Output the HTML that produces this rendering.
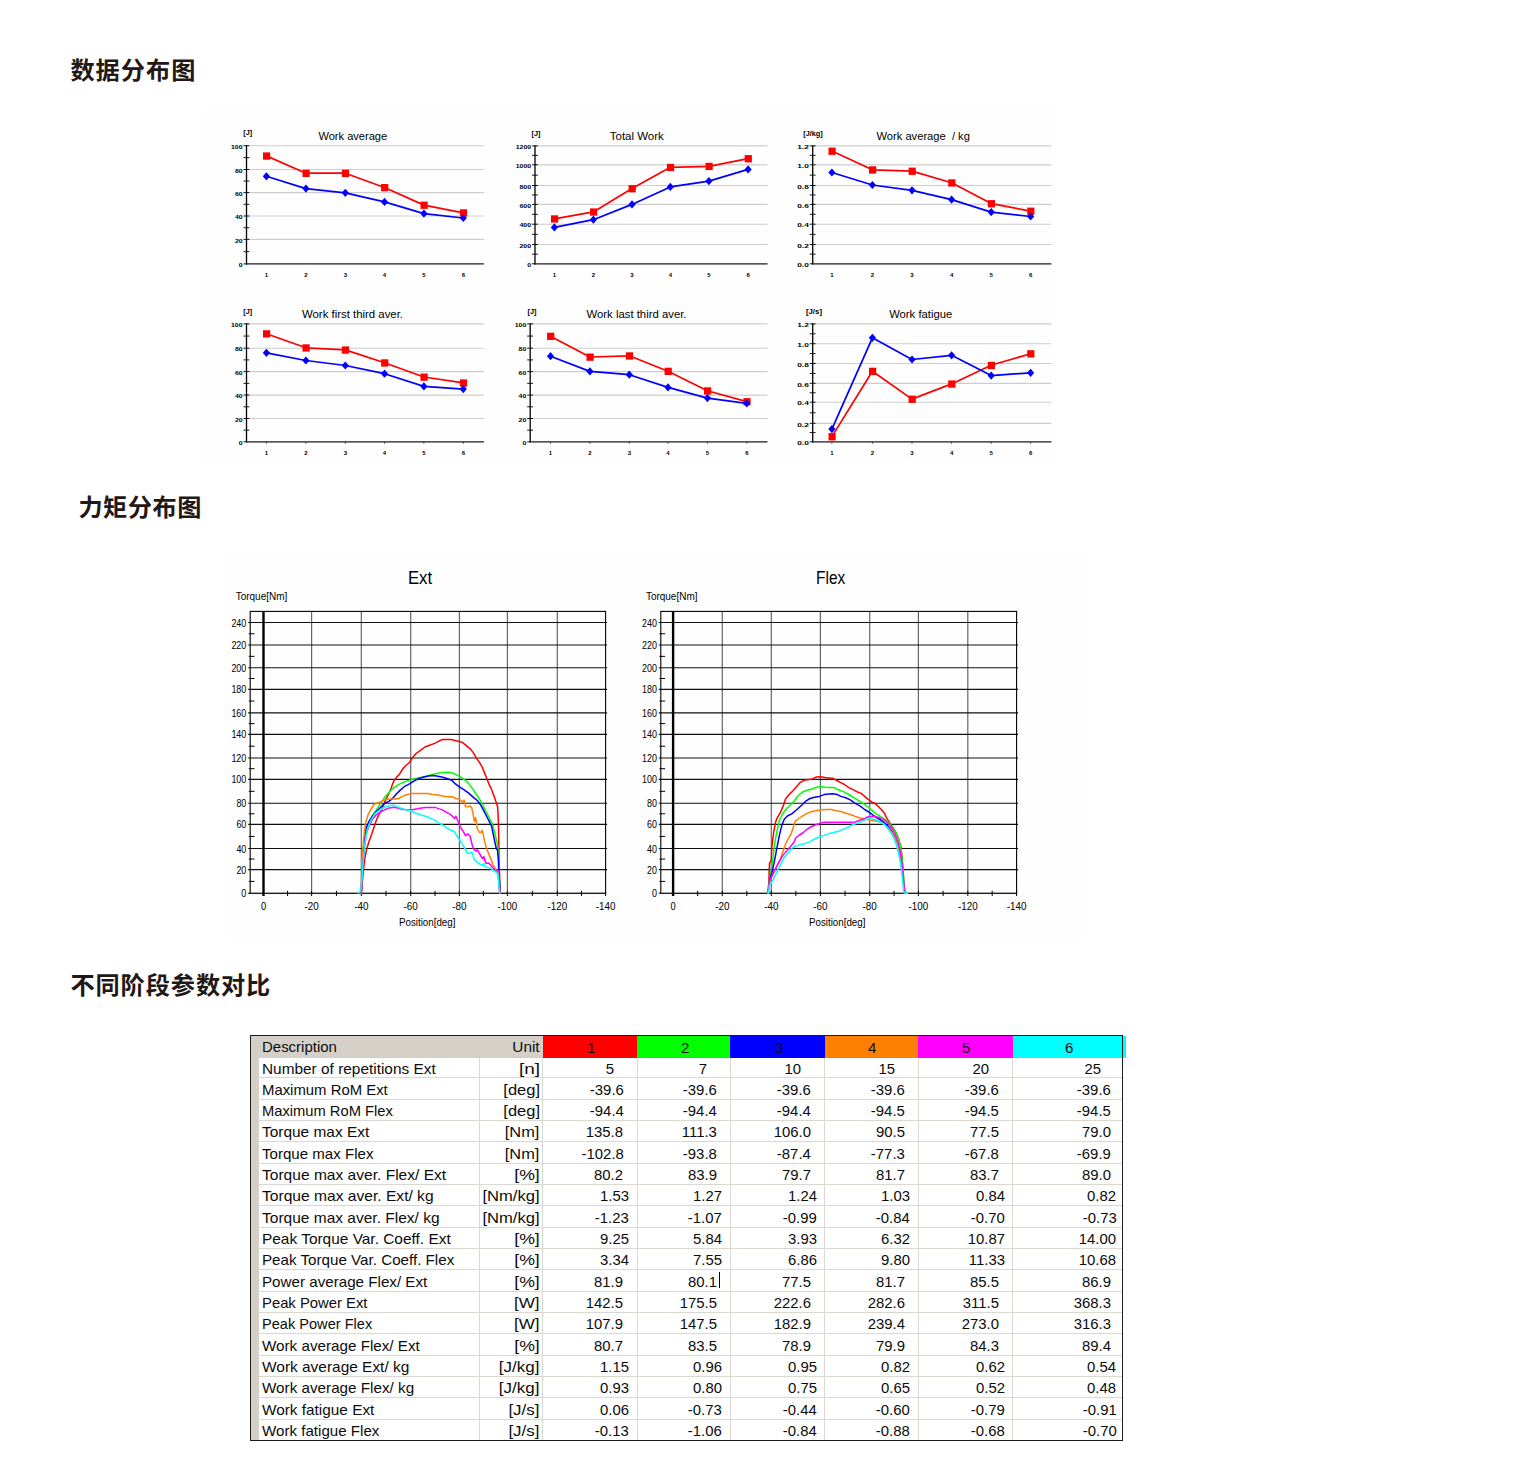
<!DOCTYPE html>
<html><head><meta charset="utf-8"><title>Report</title><style>
html,body{margin:0;padding:0;background:#fff}
body{width:1535px;height:1471px;position:relative;overflow:hidden;font-family:"Liberation Sans",sans-serif}
svg{position:absolute;left:0;top:0}
svg text{font-family:"Liberation Sans",sans-serif;fill:#000}
.bgimg{position:absolute;left:204px;top:108px;width:851px;height:357px;background:#fefefe}
.bgimg2{position:absolute;left:225px;top:552px;width:858px;height:386px;background:#fefefe}
.tbl{position:absolute;background:#d4d0c8;font-size:14.4px;color:#0c0c0c;overflow:visible}
.tbl div,.tbl span{position:absolute}
.tbl .body{background:#fff}
.tbl .hl{height:1px;background:#dbd8d1}
.tbl .vl{width:1px;background:#dbd8d1}
.tbl .t{white-space:nowrap;line-height:18px;height:18px;display:block}
.tbl .clip{overflow:hidden}
.tbl .cur{width:1px;height:16px;background:#000}
.tbl .bd{left:0;top:0;right:0;bottom:0;border:1px solid #1c1c1c;box-sizing:border-box}
</style></head><body>
<div class="bgimg"></div><div class="bgimg2"></div>
<svg width="1535" height="1471" viewBox="0 0 1535 1471">
<line x1="246.5" y1="145.70" x2="483.9" y2="145.70" stroke="#cdcdcd" stroke-width="1.15"/>
<line x1="246.5" y1="169.50" x2="483.9" y2="169.50" stroke="#cdcdcd" stroke-width="1.15"/>
<line x1="246.5" y1="192.60" x2="483.9" y2="192.60" stroke="#cdcdcd" stroke-width="1.15"/>
<line x1="246.5" y1="216.00" x2="483.9" y2="216.00" stroke="#cdcdcd" stroke-width="1.15"/>
<line x1="246.5" y1="239.40" x2="483.9" y2="239.40" stroke="#cdcdcd" stroke-width="1.15"/>
<line x1="246.5" y1="145.10" x2="246.5" y2="264.50" stroke="#000" stroke-width="1.3"/>
<line x1="245.9" y1="263.90" x2="483.9" y2="263.90" stroke="#1a1a1a" stroke-width="1.3"/>
<line x1="243.5" y1="145.70" x2="249.4" y2="145.70" stroke="#000" stroke-width="0.9"/>
<line x1="243.5" y1="157.60" x2="249.4" y2="157.60" stroke="#000" stroke-width="0.9"/>
<line x1="243.5" y1="169.50" x2="249.4" y2="169.50" stroke="#000" stroke-width="0.9"/>
<line x1="243.5" y1="181.05" x2="249.4" y2="181.05" stroke="#000" stroke-width="0.9"/>
<line x1="243.5" y1="192.60" x2="249.4" y2="192.60" stroke="#000" stroke-width="0.9"/>
<line x1="243.5" y1="204.30" x2="249.4" y2="204.30" stroke="#000" stroke-width="0.9"/>
<line x1="243.5" y1="216.00" x2="249.4" y2="216.00" stroke="#000" stroke-width="0.9"/>
<line x1="243.5" y1="227.70" x2="249.4" y2="227.70" stroke="#000" stroke-width="0.9"/>
<line x1="243.5" y1="239.40" x2="249.4" y2="239.40" stroke="#000" stroke-width="0.9"/>
<line x1="243.5" y1="251.65" x2="249.4" y2="251.65" stroke="#000" stroke-width="0.9"/>
<line x1="243.5" y1="263.90" x2="246.5" y2="263.90" stroke="#000" stroke-width="0.9"/>
<text x="242.60" y="267.10" text-anchor="end" font-size="6.2" font-weight="bold" textLength="3.9" lengthAdjust="spacingAndGlyphs">0</text>
<text x="242.60" y="242.60" text-anchor="end" font-size="6.2" font-weight="bold" textLength="7.7" lengthAdjust="spacingAndGlyphs">20</text>
<text x="242.60" y="219.20" text-anchor="end" font-size="6.2" font-weight="bold" textLength="7.7" lengthAdjust="spacingAndGlyphs">40</text>
<text x="242.60" y="195.80" text-anchor="end" font-size="6.2" font-weight="bold" textLength="7.7" lengthAdjust="spacingAndGlyphs">60</text>
<text x="242.60" y="172.70" text-anchor="end" font-size="6.2" font-weight="bold" textLength="7.7" lengthAdjust="spacingAndGlyphs">80</text>
<text x="242.60" y="148.90" text-anchor="end" font-size="6.2" font-weight="bold" textLength="11.6" lengthAdjust="spacingAndGlyphs">100</text>
<text x="266.4" y="277.00" text-anchor="middle" font-size="6" font-weight="bold">1</text>
<text x="305.9" y="277.00" text-anchor="middle" font-size="6" font-weight="bold">2</text>
<text x="345.3" y="277.00" text-anchor="middle" font-size="6" font-weight="bold">3</text>
<text x="384.5" y="277.00" text-anchor="middle" font-size="6" font-weight="bold">4</text>
<text x="423.9" y="277.00" text-anchor="middle" font-size="6" font-weight="bold">5</text>
<text x="463.3" y="277.00" text-anchor="middle" font-size="6" font-weight="bold">6</text>
<text x="243.30" y="135.40" font-size="6.6" font-weight="bold" fill="#111" textLength="8.9" lengthAdjust="spacingAndGlyphs">[J]</text>
<text xml:space="preserve" x="352.80" y="139.50" text-anchor="middle" font-size="11.3" fill="#222" textLength="68.8" lengthAdjust="spacingAndGlyphs">Work average</text>
<polyline points="266.4,155.9 305.9,173.2 345.3,173.2 384.5,187.5 423.9,205.1 463.3,212.8" fill="none" stroke="#ff0000" stroke-width="1.7" stroke-linejoin="round"/>
<rect x="263.0" y="152.4" width="7.2" height="7.3" fill="#ff0000"/>
<rect x="302.5" y="169.7" width="7.2" height="7.3" fill="#ff0000"/>
<rect x="341.9" y="169.7" width="7.2" height="7.3" fill="#ff0000"/>
<rect x="381.1" y="184.0" width="7.2" height="7.3" fill="#ff0000"/>
<rect x="420.5" y="201.6" width="7.2" height="7.3" fill="#ff0000"/>
<rect x="459.9" y="209.3" width="7.2" height="7.3" fill="#ff0000"/>
<polyline points="266.4,176.3 305.9,188.6 345.3,192.8 384.5,201.9 423.9,213.6 463.3,218.0" fill="none" stroke="#0000ff" stroke-width="1.7" stroke-linejoin="round"/>
<path d="M266.4 172.2L270.0 176.3L266.4 180.4L262.8 176.3Z" fill="#0000ff"/>
<path d="M305.9 184.5L309.5 188.6L305.9 192.7L302.3 188.6Z" fill="#0000ff"/>
<path d="M345.3 188.7L348.9 192.8L345.3 196.9L341.7 192.8Z" fill="#0000ff"/>
<path d="M384.5 197.8L388.1 201.9L384.5 206.0L380.9 201.9Z" fill="#0000ff"/>
<path d="M423.9 209.5L427.5 213.6L423.9 217.7L420.3 213.6Z" fill="#0000ff"/>
<path d="M463.3 213.9L466.9 218.0L463.3 222.1L459.7 218.0Z" fill="#0000ff"/>
<line x1="535.0" y1="145.90" x2="767.5" y2="145.90" stroke="#cdcdcd" stroke-width="1.15"/>
<line x1="535.0" y1="164.80" x2="767.5" y2="164.80" stroke="#cdcdcd" stroke-width="1.15"/>
<line x1="535.0" y1="185.50" x2="767.5" y2="185.50" stroke="#cdcdcd" stroke-width="1.15"/>
<line x1="535.0" y1="204.40" x2="767.5" y2="204.40" stroke="#cdcdcd" stroke-width="1.15"/>
<line x1="535.0" y1="224.20" x2="767.5" y2="224.20" stroke="#cdcdcd" stroke-width="1.15"/>
<line x1="535.0" y1="244.50" x2="767.5" y2="244.50" stroke="#cdcdcd" stroke-width="1.15"/>
<line x1="535.0" y1="145.30" x2="535.0" y2="264.40" stroke="#000" stroke-width="1.3"/>
<line x1="534.4" y1="263.80" x2="767.5" y2="263.80" stroke="#1a1a1a" stroke-width="1.3"/>
<line x1="532.0" y1="145.90" x2="537.9" y2="145.90" stroke="#000" stroke-width="0.9"/>
<line x1="532.0" y1="155.35" x2="537.9" y2="155.35" stroke="#000" stroke-width="0.9"/>
<line x1="532.0" y1="164.80" x2="537.9" y2="164.80" stroke="#000" stroke-width="0.9"/>
<line x1="532.0" y1="175.15" x2="537.9" y2="175.15" stroke="#000" stroke-width="0.9"/>
<line x1="532.0" y1="185.50" x2="537.9" y2="185.50" stroke="#000" stroke-width="0.9"/>
<line x1="532.0" y1="194.95" x2="537.9" y2="194.95" stroke="#000" stroke-width="0.9"/>
<line x1="532.0" y1="204.40" x2="537.9" y2="204.40" stroke="#000" stroke-width="0.9"/>
<line x1="532.0" y1="214.30" x2="537.9" y2="214.30" stroke="#000" stroke-width="0.9"/>
<line x1="532.0" y1="224.20" x2="537.9" y2="224.20" stroke="#000" stroke-width="0.9"/>
<line x1="532.0" y1="234.35" x2="537.9" y2="234.35" stroke="#000" stroke-width="0.9"/>
<line x1="532.0" y1="244.50" x2="537.9" y2="244.50" stroke="#000" stroke-width="0.9"/>
<line x1="532.0" y1="254.15" x2="537.9" y2="254.15" stroke="#000" stroke-width="0.9"/>
<line x1="532.0" y1="263.80" x2="535.0" y2="263.80" stroke="#000" stroke-width="0.9"/>
<text x="531.10" y="267.00" text-anchor="end" font-size="6.2" font-weight="bold" textLength="3.9" lengthAdjust="spacingAndGlyphs">0</text>
<text x="531.10" y="247.70" text-anchor="end" font-size="6.2" font-weight="bold" textLength="11.6" lengthAdjust="spacingAndGlyphs">200</text>
<text x="531.10" y="227.40" text-anchor="end" font-size="6.2" font-weight="bold" textLength="11.6" lengthAdjust="spacingAndGlyphs">400</text>
<text x="531.10" y="207.60" text-anchor="end" font-size="6.2" font-weight="bold" textLength="11.6" lengthAdjust="spacingAndGlyphs">600</text>
<text x="531.10" y="188.70" text-anchor="end" font-size="6.2" font-weight="bold" textLength="11.6" lengthAdjust="spacingAndGlyphs">800</text>
<text x="531.10" y="168.00" text-anchor="end" font-size="6.2" font-weight="bold" textLength="15.4" lengthAdjust="spacingAndGlyphs">1000</text>
<text x="531.10" y="149.10" text-anchor="end" font-size="6.2" font-weight="bold" textLength="15.4" lengthAdjust="spacingAndGlyphs">1200</text>
<text x="554.4" y="276.90" text-anchor="middle" font-size="6" font-weight="bold">1</text>
<text x="593.4" y="276.90" text-anchor="middle" font-size="6" font-weight="bold">2</text>
<text x="632.0" y="276.90" text-anchor="middle" font-size="6" font-weight="bold">3</text>
<text x="670.3" y="276.90" text-anchor="middle" font-size="6" font-weight="bold">4</text>
<text x="708.9" y="276.90" text-anchor="middle" font-size="6" font-weight="bold">5</text>
<text x="748.1" y="276.90" text-anchor="middle" font-size="6" font-weight="bold">6</text>
<text x="531.50" y="135.60" font-size="6.6" font-weight="bold" fill="#111" textLength="9.0" lengthAdjust="spacingAndGlyphs">[J]</text>
<text xml:space="preserve" x="636.80" y="139.70" text-anchor="middle" font-size="11.3" fill="#222" textLength="54.0" lengthAdjust="spacingAndGlyphs">Total Work</text>
<polyline points="554.4,218.8 593.4,211.9 632.0,188.6 670.3,167.3 708.9,166.3 748.1,158.6" fill="none" stroke="#ff0000" stroke-width="1.7" stroke-linejoin="round"/>
<rect x="551.0" y="215.3" width="7.2" height="7.3" fill="#ff0000"/>
<rect x="590.0" y="208.4" width="7.2" height="7.3" fill="#ff0000"/>
<rect x="628.6" y="185.1" width="7.2" height="7.3" fill="#ff0000"/>
<rect x="666.9" y="163.8" width="7.2" height="7.3" fill="#ff0000"/>
<rect x="705.5" y="162.8" width="7.2" height="7.3" fill="#ff0000"/>
<rect x="744.7" y="155.1" width="7.2" height="7.3" fill="#ff0000"/>
<polyline points="554.4,227.4 593.4,219.7 632.0,204.4 670.3,186.9 708.9,181.1 748.1,169.4" fill="none" stroke="#0000ff" stroke-width="1.7" stroke-linejoin="round"/>
<path d="M554.4 223.3L558.0 227.4L554.4 231.5L550.8 227.4Z" fill="#0000ff"/>
<path d="M593.4 215.6L597.0 219.7L593.4 223.8L589.8 219.7Z" fill="#0000ff"/>
<path d="M632.0 200.3L635.6 204.4L632.0 208.5L628.4 204.4Z" fill="#0000ff"/>
<path d="M670.3 182.8L673.9 186.9L670.3 191.0L666.7 186.9Z" fill="#0000ff"/>
<path d="M708.9 177.0L712.5 181.1L708.9 185.2L705.3 181.1Z" fill="#0000ff"/>
<path d="M748.1 165.3L751.7 169.4L748.1 173.5L744.5 169.4Z" fill="#0000ff"/>
<line x1="812.7" y1="145.90" x2="1051.4" y2="145.90" stroke="#cdcdcd" stroke-width="1.15"/>
<line x1="812.7" y1="164.80" x2="1051.4" y2="164.80" stroke="#cdcdcd" stroke-width="1.15"/>
<line x1="812.7" y1="185.50" x2="1051.4" y2="185.50" stroke="#cdcdcd" stroke-width="1.15"/>
<line x1="812.7" y1="204.40" x2="1051.4" y2="204.40" stroke="#cdcdcd" stroke-width="1.15"/>
<line x1="812.7" y1="224.20" x2="1051.4" y2="224.20" stroke="#cdcdcd" stroke-width="1.15"/>
<line x1="812.7" y1="244.50" x2="1051.4" y2="244.50" stroke="#cdcdcd" stroke-width="1.15"/>
<line x1="812.7" y1="145.30" x2="812.7" y2="264.40" stroke="#000" stroke-width="1.3"/>
<line x1="812.1" y1="263.80" x2="1051.4" y2="263.80" stroke="#1a1a1a" stroke-width="1.3"/>
<line x1="809.7" y1="145.90" x2="815.6" y2="145.90" stroke="#000" stroke-width="0.9"/>
<line x1="809.7" y1="155.35" x2="815.6" y2="155.35" stroke="#000" stroke-width="0.9"/>
<line x1="809.7" y1="164.80" x2="815.6" y2="164.80" stroke="#000" stroke-width="0.9"/>
<line x1="809.7" y1="175.15" x2="815.6" y2="175.15" stroke="#000" stroke-width="0.9"/>
<line x1="809.7" y1="185.50" x2="815.6" y2="185.50" stroke="#000" stroke-width="0.9"/>
<line x1="809.7" y1="194.95" x2="815.6" y2="194.95" stroke="#000" stroke-width="0.9"/>
<line x1="809.7" y1="204.40" x2="815.6" y2="204.40" stroke="#000" stroke-width="0.9"/>
<line x1="809.7" y1="214.30" x2="815.6" y2="214.30" stroke="#000" stroke-width="0.9"/>
<line x1="809.7" y1="224.20" x2="815.6" y2="224.20" stroke="#000" stroke-width="0.9"/>
<line x1="809.7" y1="234.35" x2="815.6" y2="234.35" stroke="#000" stroke-width="0.9"/>
<line x1="809.7" y1="244.50" x2="815.6" y2="244.50" stroke="#000" stroke-width="0.9"/>
<line x1="809.7" y1="254.15" x2="815.6" y2="254.15" stroke="#000" stroke-width="0.9"/>
<line x1="809.7" y1="263.80" x2="812.7" y2="263.80" stroke="#000" stroke-width="0.9"/>
<text x="808.80" y="267.00" text-anchor="end" font-size="6.2" font-weight="bold" textLength="11.6" lengthAdjust="spacingAndGlyphs">0.0</text>
<text x="808.80" y="247.70" text-anchor="end" font-size="6.2" font-weight="bold" textLength="11.6" lengthAdjust="spacingAndGlyphs">0.2</text>
<text x="808.80" y="227.40" text-anchor="end" font-size="6.2" font-weight="bold" textLength="11.6" lengthAdjust="spacingAndGlyphs">0.4</text>
<text x="808.80" y="207.60" text-anchor="end" font-size="6.2" font-weight="bold" textLength="11.6" lengthAdjust="spacingAndGlyphs">0.6</text>
<text x="808.80" y="188.70" text-anchor="end" font-size="6.2" font-weight="bold" textLength="11.6" lengthAdjust="spacingAndGlyphs">0.8</text>
<text x="808.80" y="168.00" text-anchor="end" font-size="6.2" font-weight="bold" textLength="11.6" lengthAdjust="spacingAndGlyphs">1.0</text>
<text x="808.80" y="149.10" text-anchor="end" font-size="6.2" font-weight="bold" textLength="11.6" lengthAdjust="spacingAndGlyphs">1.2</text>
<text x="831.9" y="276.90" text-anchor="middle" font-size="6" font-weight="bold">1</text>
<text x="872.4" y="276.90" text-anchor="middle" font-size="6" font-weight="bold">2</text>
<text x="912.0" y="276.90" text-anchor="middle" font-size="6" font-weight="bold">3</text>
<text x="951.6" y="276.90" text-anchor="middle" font-size="6" font-weight="bold">4</text>
<text x="991.2" y="276.90" text-anchor="middle" font-size="6" font-weight="bold">5</text>
<text x="1030.6" y="276.90" text-anchor="middle" font-size="6" font-weight="bold">6</text>
<text x="803.20" y="135.60" font-size="6.6" font-weight="bold" fill="#111" textLength="19.6" lengthAdjust="spacingAndGlyphs">[J/kg]</text>
<text xml:space="preserve" x="923.20" y="139.70" text-anchor="middle" font-size="11.3" fill="#222" textLength="93.4" lengthAdjust="spacingAndGlyphs">Work average  / kg</text>
<polyline points="831.9,151.1 872.4,169.8 912.0,171.1 951.6,182.8 991.2,203.6 1030.6,211.1" fill="none" stroke="#ff0000" stroke-width="1.7" stroke-linejoin="round"/>
<rect x="828.5" y="147.6" width="7.2" height="7.3" fill="#ff0000"/>
<rect x="869.0" y="166.3" width="7.2" height="7.3" fill="#ff0000"/>
<rect x="908.6" y="167.6" width="7.2" height="7.3" fill="#ff0000"/>
<rect x="948.2" y="179.3" width="7.2" height="7.3" fill="#ff0000"/>
<rect x="987.8" y="200.1" width="7.2" height="7.3" fill="#ff0000"/>
<rect x="1027.2" y="207.6" width="7.2" height="7.3" fill="#ff0000"/>
<polyline points="831.9,172.5 872.4,185.0 912.0,190.3 951.6,199.6 991.2,212.1 1030.6,216.5" fill="none" stroke="#0000ff" stroke-width="1.7" stroke-linejoin="round"/>
<path d="M831.9 168.4L835.5 172.5L831.9 176.6L828.3 172.5Z" fill="#0000ff"/>
<path d="M872.4 180.9L876.0 185.0L872.4 189.1L868.8 185.0Z" fill="#0000ff"/>
<path d="M912.0 186.2L915.6 190.3L912.0 194.4L908.4 190.3Z" fill="#0000ff"/>
<path d="M951.6 195.5L955.2 199.6L951.6 203.7L948.0 199.6Z" fill="#0000ff"/>
<path d="M991.2 208.0L994.8 212.1L991.2 216.2L987.6 212.1Z" fill="#0000ff"/>
<path d="M1030.6 212.4L1034.2 216.5L1030.6 220.6L1027.0 216.5Z" fill="#0000ff"/>
<line x1="246.5" y1="323.90" x2="483.9" y2="323.90" stroke="#cdcdcd" stroke-width="1.15"/>
<line x1="246.5" y1="348.20" x2="483.9" y2="348.20" stroke="#cdcdcd" stroke-width="1.15"/>
<line x1="246.5" y1="371.60" x2="483.9" y2="371.60" stroke="#cdcdcd" stroke-width="1.15"/>
<line x1="246.5" y1="395.10" x2="483.9" y2="395.10" stroke="#cdcdcd" stroke-width="1.15"/>
<line x1="246.5" y1="418.50" x2="483.9" y2="418.50" stroke="#cdcdcd" stroke-width="1.15"/>
<line x1="246.5" y1="323.30" x2="246.5" y2="442.40" stroke="#000" stroke-width="1.3"/>
<line x1="245.9" y1="441.80" x2="483.9" y2="441.80" stroke="#1a1a1a" stroke-width="1.3"/>
<line x1="243.5" y1="323.90" x2="249.4" y2="323.90" stroke="#000" stroke-width="0.9"/>
<line x1="243.5" y1="336.05" x2="249.4" y2="336.05" stroke="#000" stroke-width="0.9"/>
<line x1="243.5" y1="348.20" x2="249.4" y2="348.20" stroke="#000" stroke-width="0.9"/>
<line x1="243.5" y1="359.90" x2="249.4" y2="359.90" stroke="#000" stroke-width="0.9"/>
<line x1="243.5" y1="371.60" x2="249.4" y2="371.60" stroke="#000" stroke-width="0.9"/>
<line x1="243.5" y1="383.35" x2="249.4" y2="383.35" stroke="#000" stroke-width="0.9"/>
<line x1="243.5" y1="395.10" x2="249.4" y2="395.10" stroke="#000" stroke-width="0.9"/>
<line x1="243.5" y1="406.80" x2="249.4" y2="406.80" stroke="#000" stroke-width="0.9"/>
<line x1="243.5" y1="418.50" x2="249.4" y2="418.50" stroke="#000" stroke-width="0.9"/>
<line x1="243.5" y1="430.15" x2="249.4" y2="430.15" stroke="#000" stroke-width="0.9"/>
<line x1="243.5" y1="441.80" x2="246.5" y2="441.80" stroke="#000" stroke-width="0.9"/>
<line x1="266.4" y1="441.80" x2="266.4" y2="443.70" stroke="#333" stroke-width="0.9"/>
<line x1="305.9" y1="441.80" x2="305.9" y2="443.70" stroke="#333" stroke-width="0.9"/>
<line x1="345.3" y1="441.80" x2="345.3" y2="443.70" stroke="#333" stroke-width="0.9"/>
<line x1="384.5" y1="441.80" x2="384.5" y2="443.70" stroke="#333" stroke-width="0.9"/>
<line x1="423.9" y1="441.80" x2="423.9" y2="443.70" stroke="#333" stroke-width="0.9"/>
<line x1="463.3" y1="441.80" x2="463.3" y2="443.70" stroke="#333" stroke-width="0.9"/>
<text x="242.60" y="445.00" text-anchor="end" font-size="6.2" font-weight="bold" textLength="3.9" lengthAdjust="spacingAndGlyphs">0</text>
<text x="242.60" y="421.70" text-anchor="end" font-size="6.2" font-weight="bold" textLength="7.7" lengthAdjust="spacingAndGlyphs">20</text>
<text x="242.60" y="398.30" text-anchor="end" font-size="6.2" font-weight="bold" textLength="7.7" lengthAdjust="spacingAndGlyphs">40</text>
<text x="242.60" y="374.80" text-anchor="end" font-size="6.2" font-weight="bold" textLength="7.7" lengthAdjust="spacingAndGlyphs">60</text>
<text x="242.60" y="351.40" text-anchor="end" font-size="6.2" font-weight="bold" textLength="7.7" lengthAdjust="spacingAndGlyphs">80</text>
<text x="242.60" y="327.10" text-anchor="end" font-size="6.2" font-weight="bold" textLength="11.6" lengthAdjust="spacingAndGlyphs">100</text>
<text x="266.4" y="454.90" text-anchor="middle" font-size="6" font-weight="bold">1</text>
<text x="305.9" y="454.90" text-anchor="middle" font-size="6" font-weight="bold">2</text>
<text x="345.3" y="454.90" text-anchor="middle" font-size="6" font-weight="bold">3</text>
<text x="384.5" y="454.90" text-anchor="middle" font-size="6" font-weight="bold">4</text>
<text x="423.9" y="454.90" text-anchor="middle" font-size="6" font-weight="bold">5</text>
<text x="463.3" y="454.90" text-anchor="middle" font-size="6" font-weight="bold">6</text>
<text x="243.30" y="313.60" font-size="6.6" font-weight="bold" fill="#111" textLength="8.9" lengthAdjust="spacingAndGlyphs">[J]</text>
<text xml:space="preserve" x="352.50" y="317.70" text-anchor="middle" font-size="11.3" fill="#222" textLength="101.0" lengthAdjust="spacingAndGlyphs">Work first third aver.</text>
<polyline points="266.4,333.7 305.9,347.8 345.3,349.9 384.5,362.8 423.9,377.0 463.3,382.9" fill="none" stroke="#ff0000" stroke-width="1.7" stroke-linejoin="round"/>
<rect x="263.0" y="330.2" width="7.2" height="7.3" fill="#ff0000"/>
<rect x="302.5" y="344.3" width="7.2" height="7.3" fill="#ff0000"/>
<rect x="341.9" y="346.4" width="7.2" height="7.3" fill="#ff0000"/>
<rect x="381.1" y="359.3" width="7.2" height="7.3" fill="#ff0000"/>
<rect x="420.5" y="373.5" width="7.2" height="7.3" fill="#ff0000"/>
<rect x="459.9" y="379.4" width="7.2" height="7.3" fill="#ff0000"/>
<polyline points="266.4,352.8 305.9,360.5 345.3,365.5 384.5,373.7 423.9,386.4 463.3,389.1" fill="none" stroke="#0000ff" stroke-width="1.7" stroke-linejoin="round"/>
<path d="M266.4 348.7L270.0 352.8L266.4 356.9L262.8 352.8Z" fill="#0000ff"/>
<path d="M305.9 356.4L309.5 360.5L305.9 364.6L302.3 360.5Z" fill="#0000ff"/>
<path d="M345.3 361.4L348.9 365.5L345.3 369.6L341.7 365.5Z" fill="#0000ff"/>
<path d="M384.5 369.6L388.1 373.7L384.5 377.8L380.9 373.7Z" fill="#0000ff"/>
<path d="M423.9 382.3L427.5 386.4L423.9 390.5L420.3 386.4Z" fill="#0000ff"/>
<path d="M463.3 385.0L466.9 389.1L463.3 393.2L459.7 389.1Z" fill="#0000ff"/>
<line x1="530.2" y1="323.90" x2="767.5" y2="323.90" stroke="#cdcdcd" stroke-width="1.15"/>
<line x1="530.2" y1="348.20" x2="767.5" y2="348.20" stroke="#cdcdcd" stroke-width="1.15"/>
<line x1="530.2" y1="371.60" x2="767.5" y2="371.60" stroke="#cdcdcd" stroke-width="1.15"/>
<line x1="530.2" y1="395.10" x2="767.5" y2="395.10" stroke="#cdcdcd" stroke-width="1.15"/>
<line x1="530.2" y1="418.50" x2="767.5" y2="418.50" stroke="#cdcdcd" stroke-width="1.15"/>
<line x1="530.2" y1="323.30" x2="530.2" y2="442.40" stroke="#000" stroke-width="1.3"/>
<line x1="529.6" y1="441.80" x2="767.5" y2="441.80" stroke="#1a1a1a" stroke-width="1.3"/>
<line x1="527.2" y1="323.90" x2="533.1" y2="323.90" stroke="#000" stroke-width="0.9"/>
<line x1="527.2" y1="336.05" x2="533.1" y2="336.05" stroke="#000" stroke-width="0.9"/>
<line x1="527.2" y1="348.20" x2="533.1" y2="348.20" stroke="#000" stroke-width="0.9"/>
<line x1="527.2" y1="359.90" x2="533.1" y2="359.90" stroke="#000" stroke-width="0.9"/>
<line x1="527.2" y1="371.60" x2="533.1" y2="371.60" stroke="#000" stroke-width="0.9"/>
<line x1="527.2" y1="383.35" x2="533.1" y2="383.35" stroke="#000" stroke-width="0.9"/>
<line x1="527.2" y1="395.10" x2="533.1" y2="395.10" stroke="#000" stroke-width="0.9"/>
<line x1="527.2" y1="406.80" x2="533.1" y2="406.80" stroke="#000" stroke-width="0.9"/>
<line x1="527.2" y1="418.50" x2="533.1" y2="418.50" stroke="#000" stroke-width="0.9"/>
<line x1="527.2" y1="430.15" x2="533.1" y2="430.15" stroke="#000" stroke-width="0.9"/>
<line x1="527.2" y1="441.80" x2="530.2" y2="441.80" stroke="#000" stroke-width="0.9"/>
<line x1="550.5" y1="441.80" x2="550.5" y2="443.70" stroke="#333" stroke-width="0.9"/>
<line x1="589.9" y1="441.80" x2="589.9" y2="443.70" stroke="#333" stroke-width="0.9"/>
<line x1="629.3" y1="441.80" x2="629.3" y2="443.70" stroke="#333" stroke-width="0.9"/>
<line x1="668.0" y1="441.80" x2="668.0" y2="443.70" stroke="#333" stroke-width="0.9"/>
<line x1="707.4" y1="441.80" x2="707.4" y2="443.70" stroke="#333" stroke-width="0.9"/>
<line x1="746.8" y1="441.80" x2="746.8" y2="443.70" stroke="#333" stroke-width="0.9"/>
<text x="526.30" y="445.00" text-anchor="end" font-size="6.2" font-weight="bold" textLength="3.9" lengthAdjust="spacingAndGlyphs">0</text>
<text x="526.30" y="421.70" text-anchor="end" font-size="6.2" font-weight="bold" textLength="7.7" lengthAdjust="spacingAndGlyphs">20</text>
<text x="526.30" y="398.30" text-anchor="end" font-size="6.2" font-weight="bold" textLength="7.7" lengthAdjust="spacingAndGlyphs">40</text>
<text x="526.30" y="374.80" text-anchor="end" font-size="6.2" font-weight="bold" textLength="7.7" lengthAdjust="spacingAndGlyphs">60</text>
<text x="526.30" y="351.40" text-anchor="end" font-size="6.2" font-weight="bold" textLength="7.7" lengthAdjust="spacingAndGlyphs">80</text>
<text x="526.30" y="327.10" text-anchor="end" font-size="6.2" font-weight="bold" textLength="11.6" lengthAdjust="spacingAndGlyphs">100</text>
<text x="550.5" y="454.90" text-anchor="middle" font-size="6" font-weight="bold">1</text>
<text x="589.9" y="454.90" text-anchor="middle" font-size="6" font-weight="bold">2</text>
<text x="629.3" y="454.90" text-anchor="middle" font-size="6" font-weight="bold">3</text>
<text x="668.0" y="454.90" text-anchor="middle" font-size="6" font-weight="bold">4</text>
<text x="707.4" y="454.90" text-anchor="middle" font-size="6" font-weight="bold">5</text>
<text x="746.8" y="454.90" text-anchor="middle" font-size="6" font-weight="bold">6</text>
<text x="527.50" y="313.60" font-size="6.6" font-weight="bold" fill="#111" textLength="9.0" lengthAdjust="spacingAndGlyphs">[J]</text>
<text xml:space="preserve" x="636.50" y="317.70" text-anchor="middle" font-size="11.3" fill="#222" textLength="100.0" lengthAdjust="spacingAndGlyphs">Work last third aver.</text>
<polyline points="550.5,336.2 589.9,357.0 629.3,355.8 668.0,371.2 707.4,390.8 746.8,401.6" fill="none" stroke="#ff0000" stroke-width="1.7" stroke-linejoin="round"/>
<rect x="547.1" y="332.7" width="7.2" height="7.3" fill="#ff0000"/>
<rect x="586.5" y="353.5" width="7.2" height="7.3" fill="#ff0000"/>
<rect x="625.9" y="352.3" width="7.2" height="7.3" fill="#ff0000"/>
<rect x="664.6" y="367.7" width="7.2" height="7.3" fill="#ff0000"/>
<rect x="704.0" y="387.3" width="7.2" height="7.3" fill="#ff0000"/>
<rect x="743.4" y="398.1" width="7.2" height="7.3" fill="#ff0000"/>
<polyline points="550.5,356.2 589.9,371.4 629.3,374.7 668.0,387.4 707.4,398.1 746.8,403.3" fill="none" stroke="#0000ff" stroke-width="1.7" stroke-linejoin="round"/>
<path d="M550.5 352.1L554.1 356.2L550.5 360.3L546.9 356.2Z" fill="#0000ff"/>
<path d="M589.9 367.3L593.5 371.4L589.9 375.5L586.3 371.4Z" fill="#0000ff"/>
<path d="M629.3 370.6L632.9 374.7L629.3 378.8L625.7 374.7Z" fill="#0000ff"/>
<path d="M668.0 383.3L671.6 387.4L668.0 391.5L664.4 387.4Z" fill="#0000ff"/>
<path d="M707.4 394.0L711.0 398.1L707.4 402.2L703.8 398.1Z" fill="#0000ff"/>
<path d="M746.8 399.2L750.4 403.3L746.8 407.4L743.2 403.3Z" fill="#0000ff"/>
<line x1="812.7" y1="323.90" x2="1051.4" y2="323.90" stroke="#cdcdcd" stroke-width="1.15"/>
<line x1="812.7" y1="343.70" x2="1051.4" y2="343.70" stroke="#cdcdcd" stroke-width="1.15"/>
<line x1="812.7" y1="363.50" x2="1051.4" y2="363.50" stroke="#cdcdcd" stroke-width="1.15"/>
<line x1="812.7" y1="383.30" x2="1051.4" y2="383.30" stroke="#cdcdcd" stroke-width="1.15"/>
<line x1="812.7" y1="402.20" x2="1051.4" y2="402.20" stroke="#cdcdcd" stroke-width="1.15"/>
<line x1="812.7" y1="423.30" x2="1051.4" y2="423.30" stroke="#cdcdcd" stroke-width="1.15"/>
<line x1="812.7" y1="323.30" x2="812.7" y2="442.40" stroke="#000" stroke-width="1.3"/>
<line x1="812.1" y1="441.80" x2="1051.4" y2="441.80" stroke="#1a1a1a" stroke-width="1.3"/>
<line x1="809.7" y1="323.90" x2="815.6" y2="323.90" stroke="#000" stroke-width="0.9"/>
<line x1="809.7" y1="333.80" x2="815.6" y2="333.80" stroke="#000" stroke-width="0.9"/>
<line x1="809.7" y1="343.70" x2="815.6" y2="343.70" stroke="#000" stroke-width="0.9"/>
<line x1="809.7" y1="353.60" x2="815.6" y2="353.60" stroke="#000" stroke-width="0.9"/>
<line x1="809.7" y1="363.50" x2="815.6" y2="363.50" stroke="#000" stroke-width="0.9"/>
<line x1="809.7" y1="373.40" x2="815.6" y2="373.40" stroke="#000" stroke-width="0.9"/>
<line x1="809.7" y1="383.30" x2="815.6" y2="383.30" stroke="#000" stroke-width="0.9"/>
<line x1="809.7" y1="392.75" x2="815.6" y2="392.75" stroke="#000" stroke-width="0.9"/>
<line x1="809.7" y1="402.20" x2="815.6" y2="402.20" stroke="#000" stroke-width="0.9"/>
<line x1="809.7" y1="412.75" x2="815.6" y2="412.75" stroke="#000" stroke-width="0.9"/>
<line x1="809.7" y1="423.30" x2="815.6" y2="423.30" stroke="#000" stroke-width="0.9"/>
<line x1="809.7" y1="432.55" x2="815.6" y2="432.55" stroke="#000" stroke-width="0.9"/>
<line x1="809.7" y1="441.80" x2="812.7" y2="441.80" stroke="#000" stroke-width="0.9"/>
<line x1="831.9" y1="441.80" x2="831.9" y2="443.70" stroke="#333" stroke-width="0.9"/>
<line x1="872.4" y1="441.80" x2="872.4" y2="443.70" stroke="#333" stroke-width="0.9"/>
<line x1="912.0" y1="441.80" x2="912.0" y2="443.70" stroke="#333" stroke-width="0.9"/>
<line x1="951.6" y1="441.80" x2="951.6" y2="443.70" stroke="#333" stroke-width="0.9"/>
<line x1="991.2" y1="441.80" x2="991.2" y2="443.70" stroke="#333" stroke-width="0.9"/>
<line x1="1030.6" y1="441.80" x2="1030.6" y2="443.70" stroke="#333" stroke-width="0.9"/>
<text x="808.80" y="445.00" text-anchor="end" font-size="6.2" font-weight="bold" textLength="11.6" lengthAdjust="spacingAndGlyphs">0.0</text>
<text x="808.80" y="426.50" text-anchor="end" font-size="6.2" font-weight="bold" textLength="11.6" lengthAdjust="spacingAndGlyphs">0.2</text>
<text x="808.80" y="405.40" text-anchor="end" font-size="6.2" font-weight="bold" textLength="11.6" lengthAdjust="spacingAndGlyphs">0.4</text>
<text x="808.80" y="386.50" text-anchor="end" font-size="6.2" font-weight="bold" textLength="11.6" lengthAdjust="spacingAndGlyphs">0.6</text>
<text x="808.80" y="366.70" text-anchor="end" font-size="6.2" font-weight="bold" textLength="11.6" lengthAdjust="spacingAndGlyphs">0.8</text>
<text x="808.80" y="346.90" text-anchor="end" font-size="6.2" font-weight="bold" textLength="11.6" lengthAdjust="spacingAndGlyphs">1.0</text>
<text x="808.80" y="327.10" text-anchor="end" font-size="6.2" font-weight="bold" textLength="11.6" lengthAdjust="spacingAndGlyphs">1.2</text>
<text x="831.9" y="454.90" text-anchor="middle" font-size="6" font-weight="bold">1</text>
<text x="872.4" y="454.90" text-anchor="middle" font-size="6" font-weight="bold">2</text>
<text x="912.0" y="454.90" text-anchor="middle" font-size="6" font-weight="bold">3</text>
<text x="951.6" y="454.90" text-anchor="middle" font-size="6" font-weight="bold">4</text>
<text x="991.2" y="454.90" text-anchor="middle" font-size="6" font-weight="bold">5</text>
<text x="1030.6" y="454.90" text-anchor="middle" font-size="6" font-weight="bold">6</text>
<text x="805.90" y="313.60" font-size="6.6" font-weight="bold" fill="#111" textLength="16.1" lengthAdjust="spacingAndGlyphs">[J/s]</text>
<text xml:space="preserve" x="920.70" y="317.70" text-anchor="middle" font-size="11.3" fill="#222" textLength="63.0" lengthAdjust="spacingAndGlyphs">Work fatigue</text>
<polyline points="831.9,436.6 872.4,371.2 912.0,399.1 951.6,383.9 991.2,365.3 1030.6,353.7" fill="none" stroke="#ff0000" stroke-width="1.7" stroke-linejoin="round"/>
<rect x="828.5" y="433.1" width="7.2" height="7.3" fill="#ff0000"/>
<rect x="869.0" y="367.7" width="7.2" height="7.3" fill="#ff0000"/>
<rect x="908.6" y="395.6" width="7.2" height="7.3" fill="#ff0000"/>
<rect x="948.2" y="380.4" width="7.2" height="7.3" fill="#ff0000"/>
<rect x="987.8" y="361.8" width="7.2" height="7.3" fill="#ff0000"/>
<rect x="1027.2" y="350.2" width="7.2" height="7.3" fill="#ff0000"/>
<polyline points="831.9,429.1 872.4,337.8 912.0,359.5 951.6,355.3 991.2,375.6 1030.6,372.8" fill="none" stroke="#0000ff" stroke-width="1.7" stroke-linejoin="round"/>
<path d="M831.9 425.0L835.5 429.1L831.9 433.2L828.3 429.1Z" fill="#0000ff"/>
<path d="M872.4 333.7L876.0 337.8L872.4 341.9L868.8 337.8Z" fill="#0000ff"/>
<path d="M912.0 355.4L915.6 359.5L912.0 363.6L908.4 359.5Z" fill="#0000ff"/>
<path d="M951.6 351.2L955.2 355.3L951.6 359.4L948.0 355.3Z" fill="#0000ff"/>
<path d="M991.2 371.5L994.8 375.6L991.2 379.7L987.6 375.6Z" fill="#0000ff"/>
<path d="M1030.6 368.7L1034.2 372.8L1030.6 376.9L1027.0 372.8Z" fill="#0000ff"/>
<line x1="311.60" y1="611.4" x2="311.60" y2="893.2" stroke="#666" stroke-width="1.2"/>
<line x1="361.30" y1="611.4" x2="361.30" y2="893.2" stroke="#666" stroke-width="1.2"/>
<line x1="410.70" y1="611.4" x2="410.70" y2="893.2" stroke="#666" stroke-width="1.2"/>
<line x1="459.40" y1="611.4" x2="459.40" y2="893.2" stroke="#666" stroke-width="1.2"/>
<line x1="507.40" y1="611.4" x2="507.40" y2="893.2" stroke="#666" stroke-width="1.2"/>
<line x1="557.30" y1="611.4" x2="557.30" y2="893.2" stroke="#666" stroke-width="1.2"/>
<line x1="248.20" y1="869.60" x2="607.10" y2="869.60" stroke="#101010" stroke-width="1.15"/>
<line x1="248.20" y1="848.50" x2="607.10" y2="848.50" stroke="#101010" stroke-width="1.15"/>
<line x1="248.20" y1="824.40" x2="607.10" y2="824.40" stroke="#101010" stroke-width="1.15"/>
<line x1="248.20" y1="803.20" x2="607.10" y2="803.20" stroke="#101010" stroke-width="1.15"/>
<line x1="248.20" y1="779.40" x2="607.10" y2="779.40" stroke="#101010" stroke-width="1.15"/>
<line x1="248.20" y1="758.00" x2="607.10" y2="758.00" stroke="#101010" stroke-width="1.15"/>
<line x1="248.20" y1="734.40" x2="607.10" y2="734.40" stroke="#101010" stroke-width="1.15"/>
<line x1="248.20" y1="712.80" x2="607.10" y2="712.80" stroke="#101010" stroke-width="1.15"/>
<line x1="248.20" y1="689.30" x2="607.10" y2="689.30" stroke="#101010" stroke-width="1.15"/>
<line x1="248.20" y1="667.70" x2="607.10" y2="667.70" stroke="#101010" stroke-width="1.15"/>
<line x1="248.20" y1="645.00" x2="607.10" y2="645.00" stroke="#101010" stroke-width="1.15"/>
<line x1="248.20" y1="622.50" x2="607.10" y2="622.50" stroke="#101010" stroke-width="1.15"/>
<line x1="248.80" y1="881.40" x2="254.50" y2="881.40" stroke="#000" stroke-width="1"/>
<line x1="248.80" y1="859.05" x2="254.50" y2="859.05" stroke="#000" stroke-width="1"/>
<line x1="248.80" y1="836.45" x2="254.50" y2="836.45" stroke="#000" stroke-width="1"/>
<line x1="248.80" y1="813.80" x2="254.50" y2="813.80" stroke="#000" stroke-width="1"/>
<line x1="248.80" y1="791.30" x2="254.50" y2="791.30" stroke="#000" stroke-width="1"/>
<line x1="248.80" y1="768.70" x2="254.50" y2="768.70" stroke="#000" stroke-width="1"/>
<line x1="248.80" y1="746.20" x2="254.50" y2="746.20" stroke="#000" stroke-width="1"/>
<line x1="248.80" y1="723.60" x2="254.50" y2="723.60" stroke="#000" stroke-width="1"/>
<line x1="248.80" y1="701.05" x2="254.50" y2="701.05" stroke="#000" stroke-width="1"/>
<line x1="248.80" y1="678.50" x2="254.50" y2="678.50" stroke="#000" stroke-width="1"/>
<line x1="248.80" y1="656.35" x2="254.50" y2="656.35" stroke="#000" stroke-width="1"/>
<line x1="248.80" y1="633.75" x2="254.50" y2="633.75" stroke="#000" stroke-width="1"/>
<rect x="250.20" y="611.4" width="355.40" height="281.80" fill="none" stroke="#000" stroke-width="1.1"/>
<line x1="248.20" y1="893.2" x2="250.20" y2="893.2" stroke="#000" stroke-width="1.1"/>
<line x1="250.20" y1="893.5500000000001" x2="605.60" y2="893.5500000000001" stroke="#000" stroke-width="0.5"/>
<line x1="263.50" y1="611.4" x2="263.50" y2="896.0" stroke="#000" stroke-width="2.4"/>
<line x1="287.55" y1="890.80" x2="287.55" y2="896.00" stroke="#000" stroke-width="1"/>
<line x1="311.60" y1="890.80" x2="311.60" y2="896.00" stroke="#000" stroke-width="1"/>
<line x1="336.45" y1="890.80" x2="336.45" y2="896.00" stroke="#000" stroke-width="1"/>
<line x1="361.30" y1="890.80" x2="361.30" y2="896.00" stroke="#000" stroke-width="1"/>
<line x1="386.00" y1="890.80" x2="386.00" y2="896.00" stroke="#000" stroke-width="1"/>
<line x1="410.70" y1="890.80" x2="410.70" y2="896.00" stroke="#000" stroke-width="1"/>
<line x1="435.05" y1="890.80" x2="435.05" y2="896.00" stroke="#000" stroke-width="1"/>
<line x1="459.40" y1="890.80" x2="459.40" y2="896.00" stroke="#000" stroke-width="1"/>
<line x1="483.40" y1="890.80" x2="483.40" y2="896.00" stroke="#000" stroke-width="1"/>
<line x1="507.40" y1="890.80" x2="507.40" y2="896.00" stroke="#000" stroke-width="1"/>
<line x1="532.35" y1="890.80" x2="532.35" y2="896.00" stroke="#000" stroke-width="1"/>
<line x1="557.30" y1="890.80" x2="557.30" y2="896.00" stroke="#000" stroke-width="1"/>
<line x1="581.45" y1="890.80" x2="581.45" y2="896.00" stroke="#000" stroke-width="1"/>
<line x1="605.60" y1="890.80" x2="605.60" y2="896.00" stroke="#000" stroke-width="1"/>
<text x="246.30" y="897.20" text-anchor="end" font-size="10.6" textLength="5.0" lengthAdjust="spacingAndGlyphs">0</text>
<text x="246.30" y="873.60" text-anchor="end" font-size="10.6" textLength="9.9" lengthAdjust="spacingAndGlyphs">20</text>
<text x="246.30" y="852.50" text-anchor="end" font-size="10.6" textLength="9.9" lengthAdjust="spacingAndGlyphs">40</text>
<text x="246.30" y="828.40" text-anchor="end" font-size="10.6" textLength="9.9" lengthAdjust="spacingAndGlyphs">60</text>
<text x="246.30" y="807.20" text-anchor="end" font-size="10.6" textLength="9.9" lengthAdjust="spacingAndGlyphs">80</text>
<text x="246.30" y="783.40" text-anchor="end" font-size="10.6" textLength="14.9" lengthAdjust="spacingAndGlyphs">100</text>
<text x="246.30" y="762.00" text-anchor="end" font-size="10.6" textLength="14.9" lengthAdjust="spacingAndGlyphs">120</text>
<text x="246.30" y="738.40" text-anchor="end" font-size="10.6" textLength="14.9" lengthAdjust="spacingAndGlyphs">140</text>
<text x="246.30" y="716.80" text-anchor="end" font-size="10.6" textLength="14.9" lengthAdjust="spacingAndGlyphs">160</text>
<text x="246.30" y="693.30" text-anchor="end" font-size="10.6" textLength="14.9" lengthAdjust="spacingAndGlyphs">180</text>
<text x="246.30" y="671.70" text-anchor="end" font-size="10.6" textLength="14.9" lengthAdjust="spacingAndGlyphs">200</text>
<text x="246.30" y="649.00" text-anchor="end" font-size="10.6" textLength="14.9" lengthAdjust="spacingAndGlyphs">220</text>
<text x="246.30" y="626.50" text-anchor="end" font-size="10.6" textLength="14.9" lengthAdjust="spacingAndGlyphs">240</text>
<text x="263.50" y="910.00" text-anchor="middle" font-size="10.6" textLength="5.2" lengthAdjust="spacingAndGlyphs">0</text>
<text x="311.60" y="910.00" text-anchor="middle" font-size="10.6" textLength="14.3" lengthAdjust="spacingAndGlyphs">-20</text>
<text x="361.30" y="910.00" text-anchor="middle" font-size="10.6" textLength="14.3" lengthAdjust="spacingAndGlyphs">-40</text>
<text x="410.70" y="910.00" text-anchor="middle" font-size="10.6" textLength="14.3" lengthAdjust="spacingAndGlyphs">-60</text>
<text x="459.40" y="910.00" text-anchor="middle" font-size="10.6" textLength="14.3" lengthAdjust="spacingAndGlyphs">-80</text>
<text x="507.40" y="910.00" text-anchor="middle" font-size="10.6" textLength="19.7" lengthAdjust="spacingAndGlyphs">-100</text>
<text x="557.30" y="910.00" text-anchor="middle" font-size="10.6" textLength="19.7" lengthAdjust="spacingAndGlyphs">-120</text>
<text x="605.60" y="910.00" text-anchor="middle" font-size="10.6" textLength="19.7" lengthAdjust="spacingAndGlyphs">-140</text>
<text x="427.20" y="925.60" text-anchor="middle" font-size="10.6" textLength="56.5" lengthAdjust="spacingAndGlyphs">Position[deg]</text>
<text x="235.70" y="599.80" font-size="10.6" textLength="51.6" lengthAdjust="spacingAndGlyphs">Torque[Nm]</text>
<text x="420.00" y="584.10" text-anchor="middle" font-size="18.2" fill="#3c3c3c" textLength="24.2" lengthAdjust="spacingAndGlyphs">Ext</text>
<polyline points="361.3,893.3 361.9,889.2 362.5,879.7 363.7,867.8 364.9,858.2 366.7,848.7 369.0,841.6 372.0,833.3 374.4,826.1 376.8,819.0 379.7,813.0 383.3,805.9 385.7,799.9 388.1,795.2 391.0,788.6 392.8,783.3 394.6,779.7 397.0,776.7 399.4,774.4 402.3,769.6 405.3,766.0 409.5,762.5 412.5,757.7 416.0,753.6 420.2,750.6 424.9,747.0 429.7,745.2 434.5,743.4 438.6,741.3 442.2,739.6 446.4,739.5 451.1,739.6 455.9,740.8 459.4,741.4 463.0,742.8 466.6,745.8 470.2,748.8 473.1,752.4 476.1,757.7 479.1,761.9 482.0,766.6 484.4,772.6 486.8,778.5 488.6,783.3 491.0,788.1 493.3,794.0 495.7,801.1 497.5,805.9 498.1,815.4 498.5,826.1 498.7,838.0 498.9,849.9 499.3,867.8 499.7,879.7 500.1,893.3" fill="none" stroke="#ff0000" stroke-width="1.5" stroke-linejoin="round" stroke-linecap="round"/>
<polyline points="360.9,893.3 361.3,891.5 361.9,873.7 363.1,855.9 364.9,838.0 366.1,829.7 369.0,822.5 372.0,817.2 373.8,813.6 377.4,808.3 380.9,802.9 384.5,797.6 388.1,793.4 392.8,788.6 397.6,785.1 402.3,782.7 407.1,780.9 411.9,779.5 416.6,778.3 421.4,777.3 426.1,776.2 432.1,774.4 438.0,773.2 442.8,772.6 447.5,772.3 451.1,772.6 454.7,773.8 458.3,775.6 461.8,777.9 465.4,780.3 469.0,783.9 472.5,788.6 476.1,794.0 479.7,799.4 483.2,805.9 486.8,813.0 489.8,819.0 492.2,823.7 493.9,829.7 495.7,836.8 497.5,845.2 498.5,853.5 498.9,867.8 499.4,882.0 499.9,893.3" fill="none" stroke="#00ff00" stroke-width="1.5" stroke-linejoin="round" stroke-linecap="round"/>
<polyline points="360.9,893.3 361.3,891.5 362.5,867.8 364.3,844.0 366.1,828.5 369.0,821.4 372.0,816.6 375.6,812.4 379.7,808.3 384.5,803.5 389.3,801.1 392.8,798.2 396.4,794.0 400.0,790.4 404.7,786.3 409.5,783.9 414.2,780.9 419.0,778.5 423.8,777.0 428.5,775.9 433.3,775.6 438.0,776.2 442.8,777.3 447.5,778.8 451.7,780.3 454.7,783.3 459.4,786.9 464.2,789.8 469.0,793.4 473.7,797.6 477.3,800.5 480.9,805.3 484.4,811.8 488.0,819.0 491.6,826.1 492.8,832.1 494.5,840.4 496.3,848.7 497.5,849.9 498.5,861.8 498.9,873.7 499.7,885.6 499.9,893.3" fill="none" stroke="#0000ff" stroke-width="1.5" stroke-linejoin="round" stroke-linecap="round"/>
<polyline points="360.9,893.3 361.3,891.5 361.9,861.8 363.7,838.0 365.5,823.7 367.8,815.4 370.8,809.5 373.8,804.7 376.2,803.5 380.9,801.7 385.7,799.4 390.4,799.0 395.2,799.0 398.8,798.5 402.3,796.4 406.5,794.8 410.7,793.6 416.6,793.4 422.6,793.4 427.3,793.4 432.1,794.4 436.8,794.8 441.6,795.8 445.2,796.4 448.7,796.7 452.3,796.7 455.9,798.5 458.9,799.0 461.8,801.1 463.0,802.6 464.0,799.9 465.2,803.5 465.4,806.5 467.8,806.7 470.2,806.1 471.9,808.3 473.1,814.2 474.3,821.4 475.5,817.8 476.1,820.2 477.3,828.5 479.1,832.1 480.9,832.7 482.0,830.3 483.2,834.4 484.4,840.4 486.2,847.5 488.6,853.5 491.0,859.4 493.3,865.4 495.7,869.5 498.1,871.3 498.9,882.0 499.7,893.3" fill="none" stroke="#ff8000" stroke-width="1.5" stroke-linejoin="round" stroke-linecap="round"/>
<polyline points="360.9,893.3 361.3,891.5 362.5,867.8 364.3,849.9 366.1,834.4 369.0,826.1 372.6,819.0 376.2,814.8 380.9,811.8 385.7,809.2 389.3,807.9 394.0,807.3 397.6,807.9 401.2,809.2 405.9,809.7 411.9,809.8 416.6,808.9 421.4,807.9 426.1,807.4 430.9,807.4 435.1,807.4 439.2,808.9 442.8,810.1 446.4,812.4 449.9,814.2 452.9,816.6 454.7,818.4 455.9,816.4 457.1,819.0 458.9,823.7 461.2,828.5 463.6,832.1 465.4,835.6 467.8,833.9 470.2,836.2 471.3,841.0 472.5,846.3 474.3,849.9 476.1,851.1 477.3,849.7 479.1,852.9 481.5,857.0 482.6,858.8 483.8,856.5 485.0,860.6 486.2,863.6 488.6,863.0 491.0,865.4 493.3,868.3 495.7,870.7 498.1,872.5 498.9,882.0 499.7,893.3" fill="none" stroke="#ff00ff" stroke-width="1.5" stroke-linejoin="round" stroke-linecap="round"/>
<polyline points="358.3,893.3 360.7,891.0 361.9,879.7 363.1,861.8 364.9,844.0 367.2,829.7 370.8,820.2 375.0,813.6 379.7,810.1 384.5,807.1 389.3,805.9 392.8,804.9 396.4,806.5 401.2,808.3 405.9,809.7 410.7,810.7 415.4,813.0 420.2,814.8 424.9,816.0 429.7,817.8 434.5,820.2 439.2,823.1 444.0,825.9 448.7,829.1 454.1,831.5 455.9,834.4 458.3,838.0 461.8,843.4 464.8,848.1 467.2,852.9 469.6,853.2 471.9,852.1 473.1,855.9 474.3,859.4 476.7,861.8 479.7,864.2 482.0,865.4 483.8,863.6 485.0,866.6 488.0,867.4 490.4,867.8 492.8,870.1 495.7,871.9 498.1,873.7 498.7,883.2 499.7,893.3" fill="none" stroke="#00ffff" stroke-width="1.5" stroke-linejoin="round" stroke-linecap="round"/>
<line x1="722.30" y1="611.4" x2="722.30" y2="893.2" stroke="#666" stroke-width="1.2"/>
<line x1="771.30" y1="611.4" x2="771.30" y2="893.2" stroke="#666" stroke-width="1.2"/>
<line x1="820.40" y1="611.4" x2="820.40" y2="893.2" stroke="#666" stroke-width="1.2"/>
<line x1="869.70" y1="611.4" x2="869.70" y2="893.2" stroke="#666" stroke-width="1.2"/>
<line x1="918.40" y1="611.4" x2="918.40" y2="893.2" stroke="#666" stroke-width="1.2"/>
<line x1="967.80" y1="611.4" x2="967.80" y2="893.2" stroke="#666" stroke-width="1.2"/>
<line x1="658.80" y1="869.60" x2="1018.10" y2="869.60" stroke="#101010" stroke-width="1.15"/>
<line x1="658.80" y1="848.50" x2="1018.10" y2="848.50" stroke="#101010" stroke-width="1.15"/>
<line x1="658.80" y1="824.40" x2="1018.10" y2="824.40" stroke="#101010" stroke-width="1.15"/>
<line x1="658.80" y1="803.20" x2="1018.10" y2="803.20" stroke="#101010" stroke-width="1.15"/>
<line x1="658.80" y1="779.40" x2="1018.10" y2="779.40" stroke="#101010" stroke-width="1.15"/>
<line x1="658.80" y1="758.00" x2="1018.10" y2="758.00" stroke="#101010" stroke-width="1.15"/>
<line x1="658.80" y1="734.40" x2="1018.10" y2="734.40" stroke="#101010" stroke-width="1.15"/>
<line x1="658.80" y1="712.80" x2="1018.10" y2="712.80" stroke="#101010" stroke-width="1.15"/>
<line x1="658.80" y1="689.30" x2="1018.10" y2="689.30" stroke="#101010" stroke-width="1.15"/>
<line x1="658.80" y1="667.70" x2="1018.10" y2="667.70" stroke="#101010" stroke-width="1.15"/>
<line x1="658.80" y1="645.00" x2="1018.10" y2="645.00" stroke="#101010" stroke-width="1.15"/>
<line x1="658.80" y1="622.50" x2="1018.10" y2="622.50" stroke="#101010" stroke-width="1.15"/>
<line x1="659.40" y1="881.40" x2="665.10" y2="881.40" stroke="#000" stroke-width="1"/>
<line x1="659.40" y1="859.05" x2="665.10" y2="859.05" stroke="#000" stroke-width="1"/>
<line x1="659.40" y1="836.45" x2="665.10" y2="836.45" stroke="#000" stroke-width="1"/>
<line x1="659.40" y1="813.80" x2="665.10" y2="813.80" stroke="#000" stroke-width="1"/>
<line x1="659.40" y1="791.30" x2="665.10" y2="791.30" stroke="#000" stroke-width="1"/>
<line x1="659.40" y1="768.70" x2="665.10" y2="768.70" stroke="#000" stroke-width="1"/>
<line x1="659.40" y1="746.20" x2="665.10" y2="746.20" stroke="#000" stroke-width="1"/>
<line x1="659.40" y1="723.60" x2="665.10" y2="723.60" stroke="#000" stroke-width="1"/>
<line x1="659.40" y1="701.05" x2="665.10" y2="701.05" stroke="#000" stroke-width="1"/>
<line x1="659.40" y1="678.50" x2="665.10" y2="678.50" stroke="#000" stroke-width="1"/>
<line x1="659.40" y1="656.35" x2="665.10" y2="656.35" stroke="#000" stroke-width="1"/>
<line x1="659.40" y1="633.75" x2="665.10" y2="633.75" stroke="#000" stroke-width="1"/>
<rect x="660.80" y="611.4" width="355.80" height="281.80" fill="none" stroke="#000" stroke-width="1.1"/>
<line x1="658.80" y1="893.2" x2="660.80" y2="893.2" stroke="#000" stroke-width="1.1"/>
<line x1="660.80" y1="893.5500000000001" x2="1016.60" y2="893.5500000000001" stroke="#000" stroke-width="0.5"/>
<line x1="673.10" y1="611.4" x2="673.10" y2="896.0" stroke="#000" stroke-width="2.4"/>
<line x1="697.70" y1="890.80" x2="697.70" y2="896.00" stroke="#000" stroke-width="1"/>
<line x1="722.30" y1="890.80" x2="722.30" y2="896.00" stroke="#000" stroke-width="1"/>
<line x1="746.80" y1="890.80" x2="746.80" y2="896.00" stroke="#000" stroke-width="1"/>
<line x1="771.30" y1="890.80" x2="771.30" y2="896.00" stroke="#000" stroke-width="1"/>
<line x1="795.85" y1="890.80" x2="795.85" y2="896.00" stroke="#000" stroke-width="1"/>
<line x1="820.40" y1="890.80" x2="820.40" y2="896.00" stroke="#000" stroke-width="1"/>
<line x1="845.05" y1="890.80" x2="845.05" y2="896.00" stroke="#000" stroke-width="1"/>
<line x1="869.70" y1="890.80" x2="869.70" y2="896.00" stroke="#000" stroke-width="1"/>
<line x1="894.05" y1="890.80" x2="894.05" y2="896.00" stroke="#000" stroke-width="1"/>
<line x1="918.40" y1="890.80" x2="918.40" y2="896.00" stroke="#000" stroke-width="1"/>
<line x1="943.10" y1="890.80" x2="943.10" y2="896.00" stroke="#000" stroke-width="1"/>
<line x1="967.80" y1="890.80" x2="967.80" y2="896.00" stroke="#000" stroke-width="1"/>
<line x1="992.20" y1="890.80" x2="992.20" y2="896.00" stroke="#000" stroke-width="1"/>
<line x1="1016.60" y1="890.80" x2="1016.60" y2="896.00" stroke="#000" stroke-width="1"/>
<text x="656.90" y="897.20" text-anchor="end" font-size="10.6" textLength="5.0" lengthAdjust="spacingAndGlyphs">0</text>
<text x="656.90" y="873.60" text-anchor="end" font-size="10.6" textLength="9.9" lengthAdjust="spacingAndGlyphs">20</text>
<text x="656.90" y="852.50" text-anchor="end" font-size="10.6" textLength="9.9" lengthAdjust="spacingAndGlyphs">40</text>
<text x="656.90" y="828.40" text-anchor="end" font-size="10.6" textLength="9.9" lengthAdjust="spacingAndGlyphs">60</text>
<text x="656.90" y="807.20" text-anchor="end" font-size="10.6" textLength="9.9" lengthAdjust="spacingAndGlyphs">80</text>
<text x="656.90" y="783.40" text-anchor="end" font-size="10.6" textLength="14.9" lengthAdjust="spacingAndGlyphs">100</text>
<text x="656.90" y="762.00" text-anchor="end" font-size="10.6" textLength="14.9" lengthAdjust="spacingAndGlyphs">120</text>
<text x="656.90" y="738.40" text-anchor="end" font-size="10.6" textLength="14.9" lengthAdjust="spacingAndGlyphs">140</text>
<text x="656.90" y="716.80" text-anchor="end" font-size="10.6" textLength="14.9" lengthAdjust="spacingAndGlyphs">160</text>
<text x="656.90" y="693.30" text-anchor="end" font-size="10.6" textLength="14.9" lengthAdjust="spacingAndGlyphs">180</text>
<text x="656.90" y="671.70" text-anchor="end" font-size="10.6" textLength="14.9" lengthAdjust="spacingAndGlyphs">200</text>
<text x="656.90" y="649.00" text-anchor="end" font-size="10.6" textLength="14.9" lengthAdjust="spacingAndGlyphs">220</text>
<text x="656.90" y="626.50" text-anchor="end" font-size="10.6" textLength="14.9" lengthAdjust="spacingAndGlyphs">240</text>
<text x="673.10" y="910.00" text-anchor="middle" font-size="10.6" textLength="5.2" lengthAdjust="spacingAndGlyphs">0</text>
<text x="722.30" y="910.00" text-anchor="middle" font-size="10.6" textLength="14.3" lengthAdjust="spacingAndGlyphs">-20</text>
<text x="771.30" y="910.00" text-anchor="middle" font-size="10.6" textLength="14.3" lengthAdjust="spacingAndGlyphs">-40</text>
<text x="820.40" y="910.00" text-anchor="middle" font-size="10.6" textLength="14.3" lengthAdjust="spacingAndGlyphs">-60</text>
<text x="869.70" y="910.00" text-anchor="middle" font-size="10.6" textLength="14.3" lengthAdjust="spacingAndGlyphs">-80</text>
<text x="918.40" y="910.00" text-anchor="middle" font-size="10.6" textLength="19.7" lengthAdjust="spacingAndGlyphs">-100</text>
<text x="967.80" y="910.00" text-anchor="middle" font-size="10.6" textLength="19.7" lengthAdjust="spacingAndGlyphs">-120</text>
<text x="1016.60" y="910.00" text-anchor="middle" font-size="10.6" textLength="19.7" lengthAdjust="spacingAndGlyphs">-140</text>
<text x="837.20" y="925.60" text-anchor="middle" font-size="10.6" textLength="56.5" lengthAdjust="spacingAndGlyphs">Position[deg]</text>
<text x="645.90" y="599.80" font-size="10.6" textLength="51.6" lengthAdjust="spacingAndGlyphs">Torque[Nm]</text>
<text x="830.60" y="584.10" text-anchor="middle" font-size="18.2" fill="#3c3c3c" textLength="29.2" lengthAdjust="spacingAndGlyphs">Flex</text>
<polyline points="768.1,893.3 768.9,879.7 769.5,863.0 771.3,860.6 771.9,846.3 773.7,832.1 775.5,822.5 777.2,817.8 780.2,813.0 783.2,805.9 785.6,798.8 789.1,794.6 792.7,791.0 796.3,786.9 799.9,782.7 804.0,780.3 807.6,779.7 812.3,778.9 816.5,777.0 820.7,776.7 824.8,777.6 829.0,777.9 832.6,778.3 836.1,780.0 839.7,782.1 844.5,784.5 849.2,787.8 854.0,790.2 857.5,792.0 861.1,793.4 864.7,796.4 868.3,799.4 871.8,802.1 874.2,802.9 877.8,805.9 881.3,809.5 884.3,813.0 886.7,817.8 889.1,822.0 892.0,826.1 895.0,830.9 897.4,835.6 899.2,841.0 901.0,847.5 902.2,858.2 903.3,873.7 904.2,885.6 904.9,893.3" fill="none" stroke="#ff0000" stroke-width="1.5" stroke-linejoin="round" stroke-linecap="round"/>
<polyline points="768.1,893.3 768.9,882.0 770.7,873.7 772.5,861.8 774.3,846.3 776.7,832.1 779.6,820.2 783.2,813.0 786.8,808.3 790.9,804.7 794.5,800.5 798.1,795.8 802.2,792.2 807.0,790.2 811.2,789.2 815.9,787.5 820.7,786.6 824.8,787.2 829.0,787.5 833.8,787.5 838.5,789.8 843.3,791.6 848.0,794.0 852.8,797.0 857.5,799.9 862.3,802.9 867.1,806.5 871.8,810.1 876.6,814.2 881.3,817.2 886.1,820.2 889.7,823.7 893.2,828.5 896.2,832.7 898.6,839.2 900.4,845.2 901.6,853.5 902.8,867.8 903.9,884.4 904.9,893.3" fill="none" stroke="#00ff00" stroke-width="1.5" stroke-linejoin="round" stroke-linecap="round"/>
<polyline points="768.1,893.3 769.5,880.8 771.9,872.5 774.3,861.8 777.2,846.3 779.6,834.4 782.0,824.9 784.4,819.0 787.4,816.0 792.1,813.6 796.9,809.5 801.6,805.3 805.8,801.1 810.0,798.5 814.7,797.3 819.5,796.4 824.2,794.6 829.0,794.0 832.6,793.8 837.3,794.6 840.9,796.4 845.7,797.8 850.4,799.9 855.2,803.3 859.9,805.9 864.7,809.5 869.4,812.4 874.2,816.0 879.0,819.0 883.7,822.0 887.9,826.1 891.5,830.9 894.4,836.8 896.8,844.0 899.2,852.3 901.0,861.8 902.5,873.7 903.7,885.6 904.9,893.3" fill="none" stroke="#0000ff" stroke-width="1.5" stroke-linejoin="round" stroke-linecap="round"/>
<polyline points="768.1,893.3 769.5,882.0 773.1,873.7 776.7,866.6 780.2,859.4 783.2,851.1 785.6,844.0 788.0,839.2 790.9,834.4 793.3,827.3 795.1,821.4 798.1,819.0 801.6,816.6 806.4,813.6 811.2,811.8 815.9,810.7 820.7,809.7 826.6,809.5 831.4,809.5 836.1,810.7 840.9,811.5 845.7,813.3 850.4,814.5 855.2,816.4 859.9,818.0 863.5,818.4 867.1,819.6 870.6,820.2 874.2,820.8 877.8,821.4 881.3,822.3 884.9,824.7 888.5,828.3 892.0,832.7 895.0,838.6 897.4,845.2 899.4,853.5 901.3,864.2 902.8,876.1 903.9,886.8 904.9,893.3" fill="none" stroke="#ff8000" stroke-width="1.5" stroke-linejoin="round" stroke-linecap="round"/>
<polyline points="768.1,893.3 769.5,880.8 773.1,873.7 777.8,864.2 782.6,855.9 787.4,849.9 791.5,845.2 793.9,842.2 795.7,838.0 799.3,835.0 802.8,833.0 806.4,829.7 811.2,826.7 815.9,824.7 820.7,823.1 824.8,822.3 831.4,822.3 840.9,822.3 850.4,822.3 855.2,822.0 859.9,820.2 863.5,819.3 867.1,817.2 870.6,816.4 874.2,816.4 877.8,817.2 881.3,818.4 884.9,820.2 888.5,823.7 892.0,828.5 895.0,833.9 897.8,841.6 899.8,849.9 901.6,860.6 902.8,873.7 903.9,885.6 904.9,893.3" fill="none" stroke="#ff00ff" stroke-width="1.5" stroke-linejoin="round" stroke-linecap="round"/>
<polyline points="768.1,893.3 769.5,885.6 771.9,882.0 775.5,874.9 779.6,866.6 783.8,858.2 788.6,851.7 792.7,847.5 796.3,845.7 800.4,844.6 805.2,843.4 810.0,841.6 814.7,839.0 819.5,836.8 824.2,835.4 829.0,833.6 833.8,832.4 838.5,831.2 843.3,829.4 848.0,827.1 852.8,824.7 857.5,823.1 862.3,821.4 865.9,819.3 869.4,818.7 873.0,819.0 876.6,820.2 880.2,822.0 883.7,824.3 887.3,827.9 890.9,832.7 893.8,838.0 896.6,845.2 898.6,853.5 900.4,861.8 901.8,872.5 903.0,884.4 903.9,892.7 907.5,893.3" fill="none" stroke="#00ffff" stroke-width="1.5" stroke-linejoin="round" stroke-linecap="round"/>
<text x="70.40" y="79.30" font-size="24.2" font-weight="bold" textLength="125" lengthAdjust="spacing" style="font-family:'Liberation Sans','Noto Sans CJK SC',sans-serif;fill:#231815">数据分布图</text>
<text x="78.40" y="516.30" font-size="24.2" font-weight="bold" textLength="123" lengthAdjust="spacing" style="font-family:'Liberation Sans','Noto Sans CJK SC',sans-serif;fill:#231815">力矩分布图</text>
<text x="70.40" y="993.90" font-size="24.2" font-weight="bold" textLength="199.9" lengthAdjust="spacing" style="font-family:'Liberation Sans','Noto Sans CJK SC',sans-serif;fill:#231815">不同阶段参数对比</text>
</svg>
<div class="tbl" style="left:250.0px;top:1035.2px;width:873.4px;height:405.7px"><div class="body" style="left:8.6px;top:22.7px;width:864.3px;height:382.5px"></div><div class="hc" style="left:292.7px;top:1.0px;width:94.4px;height:21.7px;background:#ff0000"></div><div class="hc" style="left:387.1px;top:1.0px;width:93.2px;height:21.7px;background:#00ff00"></div><div class="hc" style="left:480.3px;top:1.0px;width:94.4px;height:21.7px;background:#0000ff"></div><div class="hc" style="left:574.7px;top:1.0px;width:93.5px;height:21.7px;background:#ff8000"></div><div class="hc" style="left:668.2px;top:1.0px;width:94.4px;height:21.7px;background:#ff00ff"></div><div class="hc" style="left:762.6px;top:1.0px;width:113.0px;height:21.7px;background:#00ffff"></div><div class="hl" style="left:8.6px;top:41.8px;width:864.3px"></div><div class="hl" style="left:8.6px;top:63.9px;width:864.3px"></div><div class="hl" style="left:8.6px;top:84.6px;width:864.3px"></div><div class="hl" style="left:8.6px;top:105.7px;width:864.3px"></div><div class="hl" style="left:8.6px;top:127.9px;width:864.3px"></div><div class="hl" style="left:8.6px;top:148.6px;width:864.3px"></div><div class="hl" style="left:8.6px;top:170.0px;width:864.3px"></div><div class="hl" style="left:8.6px;top:191.9px;width:864.3px"></div><div class="hl" style="left:8.6px;top:212.6px;width:864.3px"></div><div class="hl" style="left:8.6px;top:233.6px;width:864.3px"></div><div class="hl" style="left:8.6px;top:255.7px;width:864.3px"></div><div class="hl" style="left:8.6px;top:276.9px;width:864.3px"></div><div class="hl" style="left:8.6px;top:297.9px;width:864.3px"></div><div class="hl" style="left:8.6px;top:319.7px;width:864.3px"></div><div class="hl" style="left:8.6px;top:340.7px;width:864.3px"></div><div class="hl" style="left:8.6px;top:361.7px;width:864.3px"></div><div class="hl" style="left:8.6px;top:383.6px;width:864.3px"></div><div class="vl" style="left:228.9px;top:22.7px;height:382.5px"></div><div class="vl" style="left:292.2px;top:22.7px;height:382.5px"></div><div class="vl" style="left:386.6px;top:22.7px;height:382.5px"></div><div class="vl" style="left:479.8px;top:22.7px;height:382.5px"></div><div class="vl" style="left:574.2px;top:22.7px;height:382.5px"></div><div class="vl" style="left:667.7px;top:22.7px;height:382.5px"></div><div class="vl" style="left:762.1px;top:22.7px;height:382.5px"></div><span class="t " style="left:11.70px;top:3.11px;transform:scaleX(1.0398);transform-origin:0 50%">Description</span><span class="t " style="right:583.60px;top:3.11px;transform:scaleX(1.0661);transform-origin:100% 50%">Unit</span><span class="t " style="left:336.90px;top:4.21px;transform:scaleX(1.0500);transform-origin:0 50%">1</span><span class="t " style="left:430.70px;top:4.21px;transform:scaleX(1.0500);transform-origin:0 50%">2</span><span class="t " style="left:524.50px;top:4.21px;transform:scaleX(1.0500);transform-origin:0 50%">3</span><span class="t " style="left:618.45px;top:4.21px;transform:scaleX(1.0500);transform-origin:0 50%">4</span><span class="t " style="left:712.40px;top:4.21px;transform:scaleX(1.0500);transform-origin:0 50%">5</span><span class="t " style="left:814.75px;top:4.21px;transform:scaleX(1.0500);transform-origin:0 50%">6</span><span class="t " style="left:11.70px;top:24.71px;transform:scaleX(1.0697);transform-origin:0 50%">Number of repetitions Ext</span><span class="t " style="right:583.60px;top:24.71px;transform:scaleX(1.3179);transform-origin:100% 50%">[n]</span><span class="t " style="right:509.50px;top:24.71px;transform:scaleX(1.0350);transform-origin:100% 50%">5</span><span class="t " style="right:416.30px;top:24.71px;transform:scaleX(1.0350);transform-origin:100% 50%">7</span><span class="t " style="right:321.90px;top:24.71px;transform:scaleX(1.0350);transform-origin:100% 50%">10</span><span class="t " style="right:228.40px;top:24.71px;transform:scaleX(1.0350);transform-origin:100% 50%">15</span><span class="t " style="right:134.00px;top:24.71px;transform:scaleX(1.0350);transform-origin:100% 50%">20</span><span class="t " style="right:22.10px;top:24.71px;transform:scaleX(1.0350);transform-origin:100% 50%">25</span><span class="t " style="left:11.70px;top:45.71px;transform:scaleX(1.0344);transform-origin:0 50%">Maximum RoM Ext</span><span class="t " style="right:583.60px;top:45.71px;transform:scaleX(1.1459);transform-origin:100% 50%">[deg]</span><span class="t " style="right:499.90px;top:45.71px;transform:scaleX(1.0350);transform-origin:100% 50%">-39.6</span><span class="t " style="right:406.70px;top:45.71px;transform:scaleX(1.0350);transform-origin:100% 50%">-39.6</span><span class="t " style="right:312.30px;top:45.71px;transform:scaleX(1.0350);transform-origin:100% 50%">-39.6</span><span class="t " style="right:218.80px;top:45.71px;transform:scaleX(1.0350);transform-origin:100% 50%">-39.6</span><span class="t " style="right:124.40px;top:45.71px;transform:scaleX(1.0350);transform-origin:100% 50%">-39.6</span><span class="t " style="right:12.50px;top:45.71px;transform:scaleX(1.0350);transform-origin:100% 50%">-39.6</span><span class="t " style="left:11.70px;top:66.41px;transform:scaleX(1.0225);transform-origin:0 50%">Maximum RoM Flex</span><span class="t " style="right:583.60px;top:66.41px;transform:scaleX(1.1459);transform-origin:100% 50%">[deg]</span><span class="t " style="right:499.90px;top:66.41px;transform:scaleX(1.0350);transform-origin:100% 50%">-94.4</span><span class="t " style="right:406.70px;top:66.41px;transform:scaleX(1.0350);transform-origin:100% 50%">-94.4</span><span class="t " style="right:312.30px;top:66.41px;transform:scaleX(1.0350);transform-origin:100% 50%">-94.4</span><span class="t " style="right:218.80px;top:66.41px;transform:scaleX(1.0350);transform-origin:100% 50%">-94.5</span><span class="t " style="right:124.40px;top:66.41px;transform:scaleX(1.0350);transform-origin:100% 50%">-94.5</span><span class="t " style="right:12.50px;top:66.41px;transform:scaleX(1.0350);transform-origin:100% 50%">-94.5</span><span class="t " style="left:11.70px;top:87.51px;transform:scaleX(1.0725);transform-origin:0 50%">Torque max Ext</span><span class="t " style="right:583.60px;top:87.51px;transform:scaleX(1.1383);transform-origin:100% 50%">[Nm]</span><span class="t " style="right:499.90px;top:87.51px;transform:scaleX(1.0350);transform-origin:100% 50%">135.8</span><span class="t " style="right:406.70px;top:87.51px;transform:scaleX(1.0350);transform-origin:100% 50%">111.3</span><span class="t " style="right:312.30px;top:87.51px;transform:scaleX(1.0350);transform-origin:100% 50%">106.0</span><span class="t " style="right:218.80px;top:87.51px;transform:scaleX(1.0350);transform-origin:100% 50%">90.5</span><span class="t " style="right:124.40px;top:87.51px;transform:scaleX(1.0350);transform-origin:100% 50%">77.5</span><span class="t " style="right:12.50px;top:87.51px;transform:scaleX(1.0350);transform-origin:100% 50%">79.0</span><span class="t " style="left:11.70px;top:109.71px;transform:scaleX(1.0475);transform-origin:0 50%">Torque max Flex</span><span class="t " style="right:583.60px;top:109.71px;transform:scaleX(1.1383);transform-origin:100% 50%">[Nm]</span><span class="t " style="right:499.90px;top:109.71px;transform:scaleX(1.0350);transform-origin:100% 50%">-102.8</span><span class="t " style="right:406.70px;top:109.71px;transform:scaleX(1.0350);transform-origin:100% 50%">-93.8</span><span class="t " style="right:312.30px;top:109.71px;transform:scaleX(1.0350);transform-origin:100% 50%">-87.4</span><span class="t " style="right:218.80px;top:109.71px;transform:scaleX(1.0350);transform-origin:100% 50%">-77.3</span><span class="t " style="right:124.40px;top:109.71px;transform:scaleX(1.0350);transform-origin:100% 50%">-67.8</span><span class="t " style="right:12.50px;top:109.71px;transform:scaleX(1.0350);transform-origin:100% 50%">-69.9</span><span class="t " style="left:11.70px;top:130.41px;transform:scaleX(1.0811);transform-origin:0 50%">Torque max aver. Flex/ Ext</span><span class="t " style="right:583.60px;top:130.41px;transform:scaleX(1.2305);transform-origin:100% 50%">[%]</span><span class="t " style="right:499.90px;top:130.41px;transform:scaleX(1.0350);transform-origin:100% 50%">80.2</span><span class="t " style="right:406.70px;top:130.41px;transform:scaleX(1.0350);transform-origin:100% 50%">83.9</span><span class="t " style="right:312.30px;top:130.41px;transform:scaleX(1.0350);transform-origin:100% 50%">79.7</span><span class="t " style="right:218.80px;top:130.41px;transform:scaleX(1.0350);transform-origin:100% 50%">81.7</span><span class="t " style="right:124.40px;top:130.41px;transform:scaleX(1.0350);transform-origin:100% 50%">83.7</span><span class="t " style="right:12.50px;top:130.41px;transform:scaleX(1.0350);transform-origin:100% 50%">89.0</span><span class="t " style="left:11.70px;top:151.81px;transform:scaleX(1.0835);transform-origin:0 50%">Torque max aver. Ext/ kg</span><div class="clip" style="left:229.9px;top:149.6px;width:62.3px;height:20.4px"><span class="t" style="right:2.40px;top:2.21px;transform:scaleX(1.1531);transform-origin:100% 50%">[Nm/kg]</span></div><span class="t " style="right:494.30px;top:151.81px;transform:scaleX(1.0350);transform-origin:100% 50%">1.53</span><span class="t " style="right:401.10px;top:151.81px;transform:scaleX(1.0350);transform-origin:100% 50%">1.27</span><span class="t " style="right:306.70px;top:151.81px;transform:scaleX(1.0350);transform-origin:100% 50%">1.24</span><span class="t " style="right:213.20px;top:151.81px;transform:scaleX(1.0350);transform-origin:100% 50%">1.03</span><span class="t " style="right:118.80px;top:151.81px;transform:scaleX(1.0350);transform-origin:100% 50%">0.84</span><span class="t " style="right:6.90px;top:151.81px;transform:scaleX(1.0350);transform-origin:100% 50%">0.82</span><span class="t " style="left:11.70px;top:173.71px;transform:scaleX(1.0778);transform-origin:0 50%">Torque max aver. Flex/ kg</span><div class="clip" style="left:229.9px;top:171.0px;width:62.3px;height:20.9px"><span class="t" style="right:2.40px;top:2.71px;transform:scaleX(1.1531);transform-origin:100% 50%">[Nm/kg]</span></div><span class="t " style="right:494.30px;top:173.71px;transform:scaleX(1.0350);transform-origin:100% 50%">-1.23</span><span class="t " style="right:401.10px;top:173.71px;transform:scaleX(1.0350);transform-origin:100% 50%">-1.07</span><span class="t " style="right:306.70px;top:173.71px;transform:scaleX(1.0350);transform-origin:100% 50%">-0.99</span><span class="t " style="right:213.20px;top:173.71px;transform:scaleX(1.0350);transform-origin:100% 50%">-0.84</span><span class="t " style="right:118.80px;top:173.71px;transform:scaleX(1.0350);transform-origin:100% 50%">-0.70</span><span class="t " style="right:6.90px;top:173.71px;transform:scaleX(1.0350);transform-origin:100% 50%">-0.73</span><span class="t " style="left:11.70px;top:194.41px;transform:scaleX(1.0721);transform-origin:0 50%">Peak Torque Var. Coeff. Ext</span><span class="t " style="right:583.60px;top:194.41px;transform:scaleX(1.2305);transform-origin:100% 50%">[%]</span><span class="t " style="right:494.30px;top:194.41px;transform:scaleX(1.0350);transform-origin:100% 50%">9.25</span><span class="t " style="right:401.10px;top:194.41px;transform:scaleX(1.0350);transform-origin:100% 50%">5.84</span><span class="t " style="right:306.70px;top:194.41px;transform:scaleX(1.0350);transform-origin:100% 50%">3.93</span><span class="t " style="right:213.20px;top:194.41px;transform:scaleX(1.0350);transform-origin:100% 50%">6.32</span><span class="t " style="right:118.80px;top:194.41px;transform:scaleX(1.0350);transform-origin:100% 50%">10.87</span><span class="t " style="right:6.90px;top:194.41px;transform:scaleX(1.0350);transform-origin:100% 50%">14.00</span><span class="t " style="left:11.70px;top:215.41px;transform:scaleX(1.0542);transform-origin:0 50%">Peak Torque Var. Coeff. Flex</span><span class="t " style="right:583.60px;top:215.41px;transform:scaleX(1.2305);transform-origin:100% 50%">[%]</span><span class="t " style="right:494.30px;top:215.41px;transform:scaleX(1.0350);transform-origin:100% 50%">3.34</span><span class="t " style="right:401.10px;top:215.41px;transform:scaleX(1.0350);transform-origin:100% 50%">7.55</span><span class="t " style="right:306.70px;top:215.41px;transform:scaleX(1.0350);transform-origin:100% 50%">6.86</span><span class="t " style="right:213.20px;top:215.41px;transform:scaleX(1.0350);transform-origin:100% 50%">9.80</span><span class="t " style="right:118.80px;top:215.41px;transform:scaleX(1.0350);transform-origin:100% 50%">11.33</span><span class="t " style="right:6.90px;top:215.41px;transform:scaleX(1.0350);transform-origin:100% 50%">10.68</span><span class="t " style="left:11.70px;top:237.51px;transform:scaleX(1.0544);transform-origin:0 50%">Power average Flex/ Ext</span><span class="t " style="right:583.60px;top:237.51px;transform:scaleX(1.2305);transform-origin:100% 50%">[%]</span><span class="t " style="right:499.90px;top:237.51px;transform:scaleX(1.0350);transform-origin:100% 50%">81.9</span><span class="t " style="right:406.70px;top:237.51px;transform:scaleX(1.0350);transform-origin:100% 50%">80.1</span><div class="cur" style="left:469.3px;top:237.1px"></div><span class="t " style="right:312.30px;top:237.51px;transform:scaleX(1.0350);transform-origin:100% 50%">77.5</span><span class="t " style="right:218.80px;top:237.51px;transform:scaleX(1.0350);transform-origin:100% 50%">81.7</span><span class="t " style="right:124.40px;top:237.51px;transform:scaleX(1.0350);transform-origin:100% 50%">85.5</span><span class="t " style="right:12.50px;top:237.51px;transform:scaleX(1.0350);transform-origin:100% 50%">86.9</span><span class="t " style="left:11.70px;top:258.71px;transform:scaleX(1.0298);transform-origin:0 50%">Peak Power Ext</span><span class="t " style="right:583.60px;top:258.71px;transform:scaleX(1.1856);transform-origin:100% 50%">[W]</span><span class="t " style="right:499.90px;top:258.71px;transform:scaleX(1.0350);transform-origin:100% 50%">142.5</span><span class="t " style="right:406.70px;top:258.71px;transform:scaleX(1.0350);transform-origin:100% 50%">175.5</span><span class="t " style="right:312.30px;top:258.71px;transform:scaleX(1.0350);transform-origin:100% 50%">222.6</span><span class="t " style="right:218.80px;top:258.71px;transform:scaleX(1.0350);transform-origin:100% 50%">282.6</span><span class="t " style="right:124.40px;top:258.71px;transform:scaleX(1.0350);transform-origin:100% 50%">311.5</span><span class="t " style="right:12.50px;top:258.71px;transform:scaleX(1.0350);transform-origin:100% 50%">368.3</span><span class="t " style="left:11.70px;top:279.71px;transform:scaleX(1.0133);transform-origin:0 50%">Peak Power Flex</span><span class="t " style="right:583.60px;top:279.71px;transform:scaleX(1.1856);transform-origin:100% 50%">[W]</span><span class="t " style="right:499.90px;top:279.71px;transform:scaleX(1.0350);transform-origin:100% 50%">107.9</span><span class="t " style="right:406.70px;top:279.71px;transform:scaleX(1.0350);transform-origin:100% 50%">147.5</span><span class="t " style="right:312.30px;top:279.71px;transform:scaleX(1.0350);transform-origin:100% 50%">182.9</span><span class="t " style="right:218.80px;top:279.71px;transform:scaleX(1.0350);transform-origin:100% 50%">239.4</span><span class="t " style="right:124.40px;top:279.71px;transform:scaleX(1.0350);transform-origin:100% 50%">273.0</span><span class="t " style="right:12.50px;top:279.71px;transform:scaleX(1.0350);transform-origin:100% 50%">316.3</span><span class="t " style="left:11.70px;top:301.51px;transform:scaleX(1.0570);transform-origin:0 50%">Work average Flex/ Ext</span><span class="t " style="right:583.60px;top:301.51px;transform:scaleX(1.2305);transform-origin:100% 50%">[%]</span><span class="t " style="right:499.90px;top:301.51px;transform:scaleX(1.0350);transform-origin:100% 50%">80.7</span><span class="t " style="right:406.70px;top:301.51px;transform:scaleX(1.0350);transform-origin:100% 50%">83.5</span><span class="t " style="right:312.30px;top:301.51px;transform:scaleX(1.0350);transform-origin:100% 50%">78.9</span><span class="t " style="right:218.80px;top:301.51px;transform:scaleX(1.0350);transform-origin:100% 50%">79.9</span><span class="t " style="right:124.40px;top:301.51px;transform:scaleX(1.0350);transform-origin:100% 50%">84.3</span><span class="t " style="right:12.50px;top:301.51px;transform:scaleX(1.0350);transform-origin:100% 50%">89.4</span><span class="t " style="left:11.70px;top:322.51px;transform:scaleX(1.0728);transform-origin:0 50%">Work average Ext/ kg</span><span class="t " style="right:583.60px;top:322.51px;transform:scaleX(1.1799);transform-origin:100% 50%">[J/kg]</span><span class="t " style="right:494.30px;top:322.51px;transform:scaleX(1.0350);transform-origin:100% 50%">1.15</span><span class="t " style="right:401.10px;top:322.51px;transform:scaleX(1.0350);transform-origin:100% 50%">0.96</span><span class="t " style="right:306.70px;top:322.51px;transform:scaleX(1.0350);transform-origin:100% 50%">0.95</span><span class="t " style="right:213.20px;top:322.51px;transform:scaleX(1.0350);transform-origin:100% 50%">0.82</span><span class="t " style="right:118.80px;top:322.51px;transform:scaleX(1.0350);transform-origin:100% 50%">0.62</span><span class="t " style="right:6.90px;top:322.51px;transform:scaleX(1.0350);transform-origin:100% 50%">0.54</span><span class="t " style="left:11.70px;top:343.51px;transform:scaleX(1.0585);transform-origin:0 50%">Work average Flex/ kg</span><span class="t " style="right:583.60px;top:343.51px;transform:scaleX(1.1799);transform-origin:100% 50%">[J/kg]</span><span class="t " style="right:494.30px;top:343.51px;transform:scaleX(1.0350);transform-origin:100% 50%">0.93</span><span class="t " style="right:401.10px;top:343.51px;transform:scaleX(1.0350);transform-origin:100% 50%">0.80</span><span class="t " style="right:306.70px;top:343.51px;transform:scaleX(1.0350);transform-origin:100% 50%">0.75</span><span class="t " style="right:213.20px;top:343.51px;transform:scaleX(1.0350);transform-origin:100% 50%">0.65</span><span class="t " style="right:118.80px;top:343.51px;transform:scaleX(1.0350);transform-origin:100% 50%">0.52</span><span class="t " style="right:6.90px;top:343.51px;transform:scaleX(1.0350);transform-origin:100% 50%">0.48</span><span class="t " style="left:11.70px;top:365.41px;transform:scaleX(1.0666);transform-origin:0 50%">Work fatigue Ext</span><span class="t " style="right:583.60px;top:365.41px;transform:scaleX(1.1742);transform-origin:100% 50%">[J/s]</span><span class="t " style="right:494.30px;top:365.41px;transform:scaleX(1.0350);transform-origin:100% 50%">0.06</span><span class="t " style="right:401.10px;top:365.41px;transform:scaleX(1.0350);transform-origin:100% 50%">-0.73</span><span class="t " style="right:306.70px;top:365.41px;transform:scaleX(1.0350);transform-origin:100% 50%">-0.44</span><span class="t " style="right:213.20px;top:365.41px;transform:scaleX(1.0350);transform-origin:100% 50%">-0.60</span><span class="t " style="right:118.80px;top:365.41px;transform:scaleX(1.0350);transform-origin:100% 50%">-0.79</span><span class="t " style="right:6.90px;top:365.41px;transform:scaleX(1.0350);transform-origin:100% 50%">-0.91</span><span class="t " style="left:11.70px;top:386.51px;transform:scaleX(1.0512);transform-origin:0 50%">Work fatigue Flex</span><span class="t " style="right:583.60px;top:386.51px;transform:scaleX(1.1742);transform-origin:100% 50%">[J/s]</span><span class="t " style="right:494.30px;top:386.51px;transform:scaleX(1.0350);transform-origin:100% 50%">-0.13</span><span class="t " style="right:401.10px;top:386.51px;transform:scaleX(1.0350);transform-origin:100% 50%">-1.06</span><span class="t " style="right:306.70px;top:386.51px;transform:scaleX(1.0350);transform-origin:100% 50%">-0.84</span><span class="t " style="right:213.20px;top:386.51px;transform:scaleX(1.0350);transform-origin:100% 50%">-0.88</span><span class="t " style="right:118.80px;top:386.51px;transform:scaleX(1.0350);transform-origin:100% 50%">-0.68</span><span class="t " style="right:6.90px;top:386.51px;transform:scaleX(1.0350);transform-origin:100% 50%">-0.70</span><div class="bd"></div></div>
</body></html>
